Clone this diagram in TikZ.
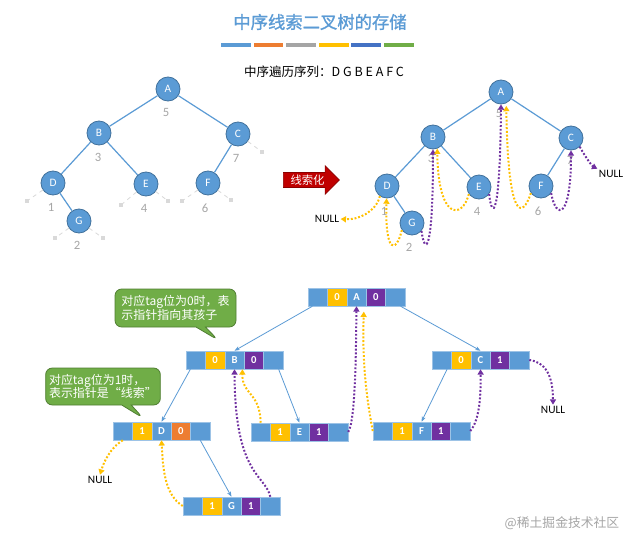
\documentclass[tikz,border=0pt]{standalone}
\usepackage{fontspec}
\setmainfont{Carlito}
\newfontfamily\cjk{Noto Sans CJK SC}
\newfontfamily\cjkb[FakeBold=1.2]{Noto Sans CJK SC}
\usetikzlibrary{arrows.meta,shapes.arrows,shapes.callouts}
\definecolor{nblue}{HTML}{5B9BD5}
\definecolor{nborder}{HTML}{41719C}
\definecolor{cyel}{HTML}{FFC000}
\definecolor{cpur}{HTML}{7030A0}
\definecolor{corg}{HTML}{ED7D31}
\definecolor{cgray}{HTML}{A5A5A5}
\definecolor{cdblue}{HTML}{4472C4}
\definecolor{cgreen}{HTML}{70AD47}
\definecolor{cgreenb}{HTML}{507E32}
\definecolor{numgray}{HTML}{A6A6A6}
\definecolor{stubgray}{HTML}{D9D9D9}
\definecolor{cred}{HTML}{C00000}
\definecolor{credb}{HTML}{8B0000}
\definecolor{cellline}{HTML}{9DC3E6}
\tikzset{
 tnode/.style={circle, fill=nblue, draw=nborder, line width=0.6pt, minimum size=18pt, inner sep=0pt, text=white, font=\fontsize{8.5}{10}\selectfont},
 tedge/.style={draw=nblue, line width=0.9pt},
 numlab/.style={text=numgray, font=\fontsize{9.5}{11}\selectfont, inner sep=0pt},
 stub/.style={draw=stubgray, line width=0.6pt, dashed},
 stubsq/.style={fill=stubgray, minimum size=3.5pt, inner sep=0pt},
 ythr/.style={draw=cyel, line width=1.5pt, dash pattern=on 1.4pt off 1.4pt, -{Triangle[length=4pt,width=4.5pt]}},
 pthr/.style={draw=cpur, line width=1.5pt, dash pattern=on 1.4pt off 1.4pt, -{Triangle[length=4pt,width=4.5pt]}},
 cell/.style={rectangle, draw=cellline, line width=0.4pt, minimum width=14.55pt, minimum height=13.5pt, inner sep=0pt, text=white, font=\bfseries\fontsize{8}{9}\selectfont},
 link/.style={draw=nblue, line width=0.6pt, -{Stealth[length=4pt,width=3pt]}},
 nulltxt/.style={font=\fontsize{8.5}{10}\selectfont, inner sep=1pt},
 callbox/.style={rectangle callout, fill=cgreen, draw=cgreenb, line width=0.6pt, rounded corners=5pt, text=white, align=left, inner sep=2.5pt, font=\cjk\fontsize{9}{10}\selectfont},
}
\newcommand\mkrec[7]{%
 \node[cell,fill=nblue] (#1-1) at (#2+9.7,#3) {};
 \node[cell,fill=cyel] (#1-2) at (#2+29.1,#3) {#4};
 \node[cell,fill=nblue] (#1-3) at (#2+48.5,#3) {#5};
 \node[cell,fill=#7] (#1-4) at (#2+67.9,#3) {#6};
 \node[cell,fill=nblue] (#1-5) at (#2+87.3,#3) {};
}
\begin{document}
\begin{tikzpicture}[x=0.75pt,y=-0.75pt]
\fill[white] (0,0) rectangle (640,546);
\path[use as bounding box] (0,0) rectangle (640,546);
% title
\node (title) at (320,22) {\cjkb\fontsize{13}{15}\selectfont\color{nblue}中序线索二叉树的存储};
\foreach \c [count=\i from 0] in {nblue,corg,cgray,cyel,cdblue,cgreen}
  \fill[\c] (221+\i*32.6,42.5) rectangle ++(29.7,4);
\node (sub) at (324,72) {\cjk\fontsize{9.4}{11}\selectfont 中序遍历序列：D G B E A F C};
% left tree
\node[tnode] (lA) at (168,89) {A};
\node[tnode] (lB) at (99,133) {B};
\node[tnode] (lC) at (238,134) {C};
\node[tnode] (lD) at (53,183) {D};
\node[tnode] (lE) at (146,184) {E};
\node[tnode] (lF) at (208,183) {F};
\node[tnode] (lG) at (79,221) {G};
\draw[tedge] (lA)--(lB); \draw[tedge] (lA)--(lC);
\draw[tedge] (lB)--(lD); \draw[tedge] (lB)--(lE);
\draw[tedge] (lC)--(lF); \draw[tedge] (lD)--(lG);
\foreach \n/\x/\y in {sD/27/201, sGl/55/238, sGr/103/238, sEl/121/205, sEr/168/201, sFl/182/201, sFr/231/200, sC/262/152}
  \coordinate (\n) at (\x,\y);
\foreach \a/\b in {lD/sD, lG/sGl, lG/sGr, lE/sEl, lE/sEr, lF/sFl, lF/sFr, lC/sC}{
  \draw[stub] (\a) -- (\b);
  \node[stubsq] (q\b) at (\b) {};
}
\node[numlab] (ln5) at (166,112) {5};
\node[numlab] (ln3) at (98,157) {3};
\node[numlab] (ln7) at (236,158) {7};
\node[numlab] (ln1) at (51,207) {1};
\node[numlab] (ln4) at (144,208) {4};
\node[numlab] (ln6) at (205,208) {6};
\node[numlab] (ln2) at (77,245) {2};
% red arrow
\node[single arrow, fill=cred, draw=credb, line width=0.5pt, minimum height=42pt, inner sep=1.5pt, single arrow head extend=5pt, text=white, anchor=tail, font=\cjk\fontsize{8.5}{10}\selectfont] (xsh) at (283,180) {线索化};
% right tree
\node[numlab] (rn5) at (499,113) {5};
\node[numlab] (rn3) at (431,158) {3};
\node[numlab] (rn7) at (570,160) {7};
\node[numlab] (rn1) at (384,211) {1};
\node[numlab] (rn4) at (477,211) {4};
\node[numlab] (rn6) at (538,211) {6};
\node[numlab] (rn2) at (409,247) {2};
\node[tnode] (rA) at (501,92) {A};
\node[tnode] (rB) at (433,137) {B};
\node[tnode] (rC) at (571,138) {C};
\node[tnode] (rD) at (387,186) {D};
\node[tnode] (rE) at (479,187) {E};
\node[tnode] (rF) at (541,186) {F};
\node[tnode] (rG) at (412,223) {G};
\draw[tedge] (rA)--(rB); \draw[tedge] (rA)--(rC);
\draw[tedge] (rB)--(rD); \draw[tedge] (rB)--(rE);
\draw[tedge] (rC)--(rF); \draw[tedge] (rD)--(rG);
\node[nulltxt] (null1) at (327,219) {NULL};
\node[nulltxt] (null2) at (611,174) {NULL};
\draw[ythr] (rD.-125) .. controls (376,212) and (358,220) .. (null1.east);
\draw[ythr] (rG.-145) .. controls (396,254) and (385,254) .. (rD.-92);
\draw[pthr] (rG.-40) .. controls (425,256) and (433,254) .. (rB.-90);
\draw[ythr] (rE.-145) .. controls (462,220) and (438,220) .. (rB.-70);
\draw[pthr] (rE.-35) .. controls (492,220) and (500,220) .. (rA.-90);
\draw[ythr, shorten >=2pt] (rF.-145) .. controls (522,220) and (508,220) .. (rA.-65);
\draw[pthr] (rF.-35) .. controls (556,220) and (571,220) .. (rC.-90);
\draw[pthr] (rC.-45) .. controls (586,158) and (592,166) .. (null2.north west);
% records
\mkrec{RA}{308}{297}{0}{A}{0}{cpur}
\mkrec{RB}{186}{360}{0}{B}{0}{cpur}
\mkrec{RC}{432}{360}{0}{C}{1}{cpur}
\mkrec{RD}{113}{431}{1}{D}{0}{corg}
\mkrec{RE}{251}{432}{1}{E}{1}{cpur}
\mkrec{RF}{373}{431}{1}{F}{1}{cpur}
\mkrec{RG}{183}{506}{1}{G}{1}{cpur}
\draw[link] (RA-1.-120) -- (RB-3.north);
\draw[link] (RA-5.-60) -- (RC-3.north);
\draw[link] (RB-1.-120) -- (RD-3.north);
\draw[link] (RB-5.-60) -- (RE-3.north);
\draw[link] (RC-1.-60) -- (RF-3.north);
\draw[link] (RD-5.south) -- (RG-3.north);
\node[nulltxt] (null3) at (100,480) {NULL};
\node[nulltxt] (null4) at (553,410) {NULL};
\draw[ythr] (RD-1.south) .. controls (115,445) and (106,455) .. (null3.north);
\draw[ythr] (RG-1.west) .. controls (165,495) and (163,470) .. (RD-3.south);
\draw[pthr] (RG-5.north) .. controls (265,474) and (235,476) .. (RB-3.south);
\draw[ythr] (RE-1.north) .. controls (260,392) and (242,395) .. ([xshift=-1.5pt]RB-3.south east);
\draw[pthr] (RE-5.east) .. controls (356,420) and (356,340) .. (RA-3.south);
\draw[ythr] (RF-1.west) .. controls (368,405) and (362,370) .. ([xshift=-2pt,yshift=-4pt]RA-3.south east);
\draw[pthr] (RF-5.east) .. controls (480,420) and (481,392) .. (RC-3.south);
\draw[pthr] (RC-5.east) .. controls (545,362) and (553,375) .. (null4.north);
% callouts
\node[callbox, minimum width=90.75pt, minimum height=28.5pt, callout absolute pointer={(218,340)}] (call1) at (175.5,308) {对应tag位为0时，表\\示指针指向其孩子};
\node[callbox, minimum width=84pt, minimum height=27.75pt, callout absolute pointer={(143,418)}] (call2) at (103,386.5) {对应tag位为1时，\\表示指针是“线索”};
% watermark
\node[text=black!35] (wm) at (562,523) {\cjk\fontsize{9.6}{11}\selectfont @稀土掘金技术社区};
\end{tikzpicture}
\end{document}
